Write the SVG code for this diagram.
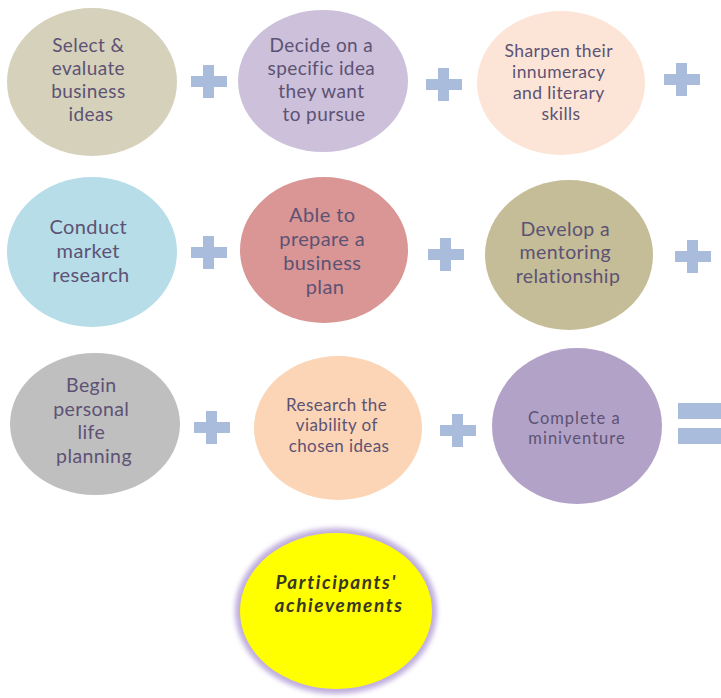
<svg xmlns="http://www.w3.org/2000/svg" width="721" height="698" viewBox="0 0 721 698">
  <defs>
    <style>
      .lbl { font-family: Lato, "Open Sans", "Liberation Sans", sans-serif; fill: #5d5274; text-anchor: middle; letter-spacing: 0.4px; }
      .wide { letter-spacing: 1px; }
      .op { fill: #a9bcdb; }
      .goal { font-family: Lato, "Open Sans", "Liberation Sans", sans-serif; font-weight: bold; font-style: italic; font-size: 19px; letter-spacing: 1.6px; fill: #38371f; text-anchor: middle; }
    </style>
    <filter id="halo" x="-20%" y="-20%" width="140%" height="140%">
      <feGaussianBlur stdDeviation="2.5"/>
    </filter>
  </defs>
  <rect width="721" height="698" fill="#ffffff"/>

  <!-- row 1 -->
  <g id="select-evaluate">
    <ellipse cx="92" cy="82" rx="85" ry="74" fill="#d5d1bb"/>
    <text class="lbl" font-size="19">
      <tspan x="91" y="52">Select &amp;</tspan>
      <tspan x="91" y="75">evaluate</tspan>
      <tspan x="91" y="98">business</tspan>
      <tspan x="91" y="121">ideas</tspan>
    </text>
  </g>
  <g id="decide-idea">
    <ellipse cx="323" cy="81" rx="85" ry="71" fill="#ccc0da"/>
    <text class="lbl" font-size="19">
      <tspan x="324" y="52">Decide on a</tspan>
      <tspan x="324" y="75">specific idea</tspan>
      <tspan x="324" y="98">they want</tspan>
      <tspan x="324" y="121">to pursue</tspan>
    </text>
  </g>
  <g id="sharpen-skills">
    <ellipse cx="561" cy="83" rx="84" ry="72" fill="#fce5d6"/>
    <text class="lbl" font-size="17.5">
      <tspan x="561" y="57">Sharpen their</tspan>
      <tspan x="561" y="78">innumeracy</tspan>
      <tspan x="561" y="99">and literary</tspan>
      <tspan x="561" y="120">skills</tspan>
    </text>
  </g>

  <!-- row 2 -->
  <g id="market-research">
    <ellipse cx="92" cy="252" rx="85" ry="75" fill="#b7dde8"/>
    <text class="lbl" font-size="20">
      <tspan x="91" y="234">Conduct</tspan>
      <tspan x="91" y="258">market</tspan>
      <tspan x="91" y="282">research</tspan>
    </text>
  </g>
  <g id="business-plan">
    <ellipse cx="324" cy="250" rx="84" ry="73" fill="#d99694"/>
    <text class="lbl" font-size="20">
      <tspan x="325" y="222">Able to</tspan>
      <tspan x="325" y="246">prepare a</tspan>
      <tspan x="325" y="270">business</tspan>
      <tspan x="325" y="294">plan</tspan>
    </text>
  </g>
  <g id="mentoring">
    <ellipse cx="569" cy="255" rx="84" ry="75" fill="#c4bd97"/>
    <text class="lbl" font-size="19.5">
      <tspan x="568" y="236">Develop a</tspan>
      <tspan x="568" y="259">mentoring</tspan>
      <tspan x="568" y="283">relationship</tspan>
    </text>
  </g>

  <!-- row 3 -->
  <g id="life-planning">
    <ellipse cx="95" cy="424" rx="85" ry="71" fill="#bfbfbf"/>
    <text class="lbl" font-size="19.5">
      <tspan x="94" y="392">Begin</tspan>
      <tspan x="94" y="416">personal</tspan>
      <tspan x="94" y="439">life</tspan>
      <tspan x="94" y="463">planning</tspan>
    </text>
  </g>
  <g id="viability">
    <ellipse cx="338" cy="428" rx="84" ry="72" fill="#fbd5b5"/>
    <text class="lbl" font-size="17">
      <tspan x="339" y="411">Research the</tspan>
      <tspan x="339" y="431">viability of</tspan>
      <tspan x="339" y="452">chosen ideas</tspan>
    </text>
  </g>
  <g id="miniventure">
    <ellipse cx="577" cy="426" rx="85" ry="78" fill="#b3a2c7"/>
    <text class="lbl wide" font-size="16.5">
      <tspan x="577" y="424">Complete a</tspan>
      <tspan x="577" y="444">miniventure</tspan>
    </text>
  </g>

  <!-- result -->
  <g id="achievements">
    <ellipse cx="336" cy="611" rx="101" ry="83" fill="#bfaedd" filter="url(#halo)"/>
    <ellipse cx="336" cy="611" rx="96" ry="78" fill="#ffff00"/>
    <text class="goal">
      <tspan x="339" y="589">Participants'</tspan>
      <tspan x="339" y="612">achievements</tspan>
    </text>
  </g>

  <!-- plus and equals operators between the steps -->
  <g id="connectors">
    <g class="op">
      <path d="M191 76h12v-11h11v11h13v11h-13v11h-11v-11h-12z"/>
      <path d="M426 79h12v-11h11v11h13v11h-13v11h-11v-11h-12z"/>
      <path d="M664 74h12v-11h11v11h13v11h-13v11h-11v-11h-12z"/>
      <path d="M191 247h12v-11h11v11h13v11h-13v11h-11v-11h-12z"/>
      <path d="M428 249h12v-11h11v11h13v11h-13v11h-11v-11h-12z"/>
      <path d="M675 251h12v-11h11v11h13v11h-13v11h-11v-11h-12z"/>
      <path d="M194 422h12v-11h11v11h13v11h-13v11h-11v-11h-12z"/>
      <path d="M440 425h12v-11h11v11h13v11h-13v11h-11v-11h-12z"/>
      <rect x="678" y="403" width="43" height="16"/>
      <rect x="678" y="428" width="43" height="16"/>
    </g>
  </g>
</svg>
